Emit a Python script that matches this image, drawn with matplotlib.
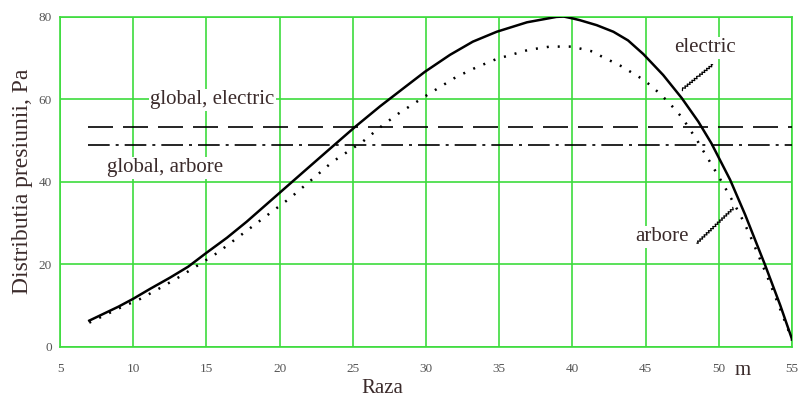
import numpy as np
import matplotlib.pyplot as plt

plt.rcParams['font.family'] = ['Liberation Serif', 'DejaVu Serif']

# pressure distribution, electric drive (solid)
r_el = [7, 8, 9, 10, 11.15, 12.5, 13.76, 15.02, 16.4, 17.75, 19.9, 21.6, 23.5,
        25.15, 26.86, 28.5, 29.93, 31.64, 33.2, 34.83, 36.9, 38.9, 39.4, 40.06,
        40.52, 41.66, 42.8, 43.8, 44.84, 46.2, 47.47, 48.6, 49.5, 50.77, 51.8,
        53.16, 54.2, 55]
p_el = [6.3, 8.0, 9.7, 11.6, 14.0, 16.7, 19.4, 22.8, 26.4, 30.3, 37.0, 42.3, 48.2,
        53.3, 58.3, 62.8, 66.7, 70.8, 74.0, 76.4, 78.7, 80.0, 80.1, 79.6,
        79.2, 78.0, 76.4, 74.3, 71.0, 65.9, 60.3, 54.6, 49.3, 40.5, 32.0,
        19.8, 10.0, 1.8]

# pressure distribution, shaft drive (dotted)
r_ar = [7, 8.4, 9.1, 10.5, 11.83, 13.2, 14.45, 15.77, 17.0, 18.27, 19.5, 20.7,
        21.96, 23.6, 25.7, 27.0, 28.1, 30.1, 32.05, 33.46, 34.83, 36.99, 38.47,
        39.95, 41.4, 42.0, 43.37, 44.05, 44.7, 45.3, 45.9, 46.48, 47.08, 47.57,
        48.0, 48.5, 48.8, 49.4, 50.1, 50.65, 51.3, 51.67, 52.13, 52.7, 53.38,
        54.06, 54.75, 55]
p_ar = [5.8, 8.2, 9.4, 11.6, 14.2, 17.0, 19.8, 22.8, 26.1, 29.5, 32.8, 36.0,
        39.8, 44.8, 49.8, 53.6, 56.5, 61.1, 65.4, 67.8, 69.8, 72.0, 72.8,
        72.8, 71.6, 70.4, 68.0, 66.5, 65.1, 63.5, 61.6, 59.6, 57.3, 55.2,
        52.8, 50.2, 48.3, 44.8, 40.6, 37.2, 33.0, 30.5, 27.0, 22.2, 16.4,
        10.3, 4.0, 1.5]

# global (mean) values
glob_el = 53.3
glob_ar = 48.8
r_span = [6.9, 55]

xticks = [5, 10, 15, 20, 25, 30, 35, 40, 45, 50, 55]
yticks = [0, 20, 40, 60, 80]

green = '#3ddc3d'
txt = '#3b2b2b'

fig = plt.figure(figsize=(8, 4.03), dpi=100)
ax = fig.add_axes([0.075, 0.14, 0.915, 0.818])

ax.plot(r_el, p_el, color='black', lw=1.8, zorder=4)
ax.plot(r_ar, p_ar, color='black', lw=1.8, linestyle=(0, (0.8, 3.6)), zorder=4)
ax.plot(r_span, [glob_el, glob_el], color='black', lw=1.2,
        linestyle=(0, (15, 6)), zorder=3)
ax.plot(r_span, [glob_ar, glob_ar], color='black', lw=1.2,
        linestyle=(0, (13, 3.6, 1.8, 3.6)), zorder=3)

ax.set_xlim(5, 55)
ax.set_ylim(0, 80)
ax.set_xticks(xticks)
ax.set_yticks(yticks)
ax.grid(True, color=green, lw=1.2, zorder=0)
for s in ax.spines.values():
    s.set_color(green)
    s.set_linewidth(1.2)
ax.tick_params(length=0, labelsize=9.5, labelcolor='#555555')
ax.tick_params(axis='x', pad=12)
ax.tick_params(axis='y', pad=6)

ax.set_ylabel('Distributia presiunii, Pa', fontsize=17, color=txt, labelpad=4)
ax.text(0.44, -0.128, 'Raza', transform=ax.transAxes, fontsize=15, color=txt,
        ha='center', va='center')
ax.text(51.6, -3.5, 'm', fontsize=15, color=txt, ha='center', va='top')

bb = dict(facecolor='white', edgecolor='none', pad=1)
ax.text(15.4, 59.9, 'global, electric', fontsize=15, color=txt,
        ha='center', va='center', bbox=bb, zorder=5)
ax.text(12.2, 43.4, 'global, arbore', fontsize=15, color=txt,
        ha='center', va='center', bbox=bb, zorder=5)
ax.text(49.05, 72.5, 'electric', fontsize=15, color=txt,
        ha='center', va='center', bbox=bb, zorder=5)
ax.text(46.1, 26.6, 'arbore', fontsize=15, color=txt,
        ha='center', va='center', bbox=bb, zorder=5)

# wavy leader lines
for start, end in [((49.58, 68.4), (47.47, 62.3)), ((48.5, 25.1), (51.0, 33.6))]:
    a = ax.annotate('', xy=end, xytext=start,
                    arrowprops=dict(arrowstyle='-', color='black', lw=0.9,
                                    shrinkA=0, shrinkB=0))
    a.arrow_patch.set_sketch_params(scale=1.2, length=3, randomness=1)

fig.savefig('out.png', dpi=100)
